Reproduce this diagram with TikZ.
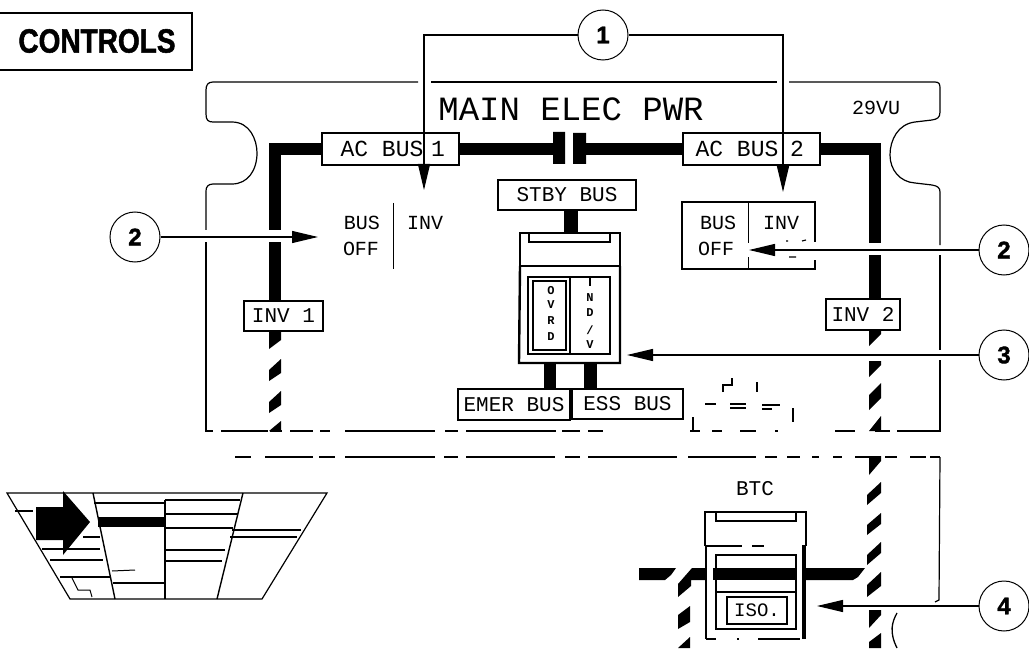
\documentclass[tikz,border=0pt]{standalone}
\usepackage{graphicx}
\usepackage{fontspec}
\setmainfont{Liberation Sans}
\setmonofont{Liberation Mono}
\setsansfont{Liberation Sans}
\newfontfamily\heavyfont[FakeBold=1.6]{Liberation Sans Bold}
\usetikzlibrary{arrows.meta}
\newcommand{\fsz}[1]{\fontsize{#1}{#1}\selectfont}
\tikzset{
  ink/.style={line width=1pt,black},
  panelline/.style={line width=1.2pt,black},
  busline/.style={line width=12pt,black},
  lblbox/.style={draw,line width=1.2pt,inner sep=0pt,font=\ttfamily\fsz{21}},
  lbltext/.style={inner sep=0pt,font=\ttfamily\fsz{20}},
  tinytext/.style={inner sep=0pt,font=\ttfamily\bfseries\fsz{12}},
  callout/.style={draw,circle,line width=1pt,minimum size=50pt,inner sep=0pt,font=\heavyfont\fsz{24},fill=white},
  leader/.style={line width=1.2pt,-{Triangle[length=26pt,width=12pt]}},
}
\begin{document}
\begin{tikzpicture}[x=1pt,y=-1pt]
\useasboundingbox (0,0) rectangle (1029,650);
\fill[white] (0,0) rectangle (1029,650);
% CONTROLS
\draw[line width=1.3pt] (0,13) -- (192,13) -- (192,70) -- (0,70);
\node[inner sep=0pt,font=\heavyfont\fsz{28}] (controls) at (97,41) {\scalebox{1}[1.2]{CONTROLS}};
% panel
\draw[panelline] (418,82) -- (213,82) .. controls (208,82) and (206,85) .. (206,90) -- (206,114) .. controls (206,120) and (208,122) .. (213,122) -- (232,122) .. controls (250,122) and (257,140) .. (257,153) .. controls (257,170) and (248,184) .. (232,184) -- (213,184) .. controls (208,184) and (206,187) .. (206,191) -- (206,230);
\draw[panelline] (206,242) -- (206,431) -- (213,431);
\draw[panelline] (431,82) -- (777,82);
\draw[panelline] (789,82) -- (935,82) .. controls (939,82) and (940,84) .. (940,88) -- (940,112) .. controls (940,118) and (937,119) .. (932,120) -- (915,122) .. controls (898,124) and (890,140) .. (890,155) .. controls (890,170) and (900,182) .. (915,183) -- (932,185) .. controls (938,186) and (940,188) .. (940,192) -- (940,245);
\draw[panelline] (940,255) -- (940,350);
\draw[panelline] (940,360) -- (940,431) -- (925,431);
\foreach \a/\b in {221/268,270/282,290/313,320/330,345/435,445/458,466/556,562/580,588/603,690/700,712/722,740/756,775/778,835/855,875/890,897/925}
  \draw[panelline] (\a,431) -- (\b,431);
\foreach \a/\b in {235/251,265/313,319/335,345/435,444/458,466/555,565/580,588/677,688/756,765/777,787/800,812/819,833/842,855/869,885/897,910/926,930/940}
  \draw[panelline] (\a,457) -- (\b,457);
\draw[panelline] (940,457) -- (939,600) -- (935,602);
\node[inner sep=0pt,font=\ttfamily\fsz{34}] (title) at (571,109) {MAIN ELEC PWR};
\node[lbltext] (vu) at (876,108) {29VU};
% bus labels
\node[lblbox,minimum width=137pt,minimum height=32pt] (ac1) at (390.5,149) {};
\node[inner sep=0pt,font=\ttfamily\fsz{23}] (ac1a) at (382,149) {AC BUS};
\node[inner sep=0pt,font=\ttfamily\fsz{23}] (ac1n) at (438,149) {1};
\node[lblbox,minimum width=137pt,minimum height=32pt] (ac2) at (751.5,149) {};
\node[inner sep=0pt,font=\ttfamily\fsz{23}] (ac2a) at (737,149) {AC BUS};
\node[inner sep=0pt,font=\ttfamily\fsz{23}] (ac2n) at (797,149) {2};
\node[lblbox,minimum width=138pt,minimum height=30pt] (stby) at (567,195) {STBY BUS};
\node[lblbox,minimum width=79pt,minimum height=30pt] (inv1) at (283.5,316) {INV 1};
\node[lblbox,minimum width=74pt,minimum height=31pt] (inv2) at (863,314.5) {INV 2};
\node[lblbox,minimum width=112pt,minimum height=31pt] (emer) at (514,404.5) {EMER BUS};
\node[lblbox,minimum width=111pt,minimum height=30pt] (ess) at (627.5,404) {ESS BUS};
% buses
\draw[busline] (ac1.west) -- (275,149) -- (275,230);
\draw[busline] (275,242) -- (inv1.north -| 275,0);
\fill (553,132) rectangle (565,164) (573,133) rectangle (586,164);
\coordinate (capL) at (553,149);
\coordinate (capR) at (586,149);
\draw[busline] (ac1.east) -- (capL);
\draw[busline] (capR) -- (ac2.west);
\draw[busline] (ac2.east) -- (875,149) -- (875,243);
\draw[busline] (875,255) -- (inv2.north -| 875,0);
% hatches left
\fill (269,332) -- (281,332) -- (281,340) -- (269,349) -- cycle;
\fill (269,370) -- (281,359) -- (281,373) -- (269,381) -- cycle;
\fill (269,402) -- (281,391) -- (281,405) -- (269,413) -- cycle;
\fill (269,431) -- (281,421) -- (281,431) -- cycle;
% hatches right
\fill (869,330) -- (881,330) -- (881,334) -- (869,346) -- cycle;
\fill (869,361) -- (881,361) -- (881,365) -- (869,377) -- cycle;
\fill (869,395) -- (881,383) -- (881,398) -- (869,410) -- cycle;
\fill (869,431) -- (881,416) -- (881,431) -- cycle;
\fill (869,456) -- (881,456) -- (881,461) -- (869,475) -- cycle;
\fill (867,495) -- (881,482) -- (881,493) -- (867,505) -- cycle;
\fill (867,525) -- (881,513) -- (881,524) -- (867,535) -- cycle;
\fill (867,555) -- (881,542) -- (881,553) -- (867,565) -- cycle;
\fill (867,585) -- (881,572) -- (881,586) -- (867,597) -- cycle;
\fill (869,610) -- (881,610) -- (881,615) -- (869,628) -- cycle;
\fill (869,648) -- (881,648) -- (881,633) -- (869,642) -- cycle;
% left label group
\node[lbltext] (busL) at (362,223) {BUS};
\node[lbltext] (offL) at (361,249) {OFF};
\node[lbltext] (invL) at (425,223) {INV};
\coordinate (dvT) at (393,203); \coordinate (dvB) at (393,269);
\draw[ink] (dvT) -- (dvB);
% right switch
\node[draw,line width=1.2pt,minimum width=133pt,minimum height=67pt,inner sep=0pt] (sw) at (748.5,235.5) {};
\draw[line width=1.5pt] (sw.north) -- (sw.south);
\fill[white] (745,243) rectangle (752,257);
\fill[white] (812,242) rectangle (818,260);
\node[lbltext] (busR) at (718,223) {BUS};
\node[lbltext] (offR) at (716,249) {OFF};
\node[lbltext] (invR) at (781,223) {INV};
\draw[line width=1.2pt] (786,241) -- (788,241) (802,241) -- (806,240) (789,257) -- (796,257);
% STBY module
\coordinate (m1T) at (571,233);
\draw[busline,line width=14pt] (stby.south -| 571,0) -- (m1T);
\draw[line width=1.2pt] (520,266) -- (520,233) -- (620,233) -- (620,266);
\draw[line width=1.2pt] (529,234) -- (529,242) -- (610,242) -- (610,234);
\draw[line width=2pt] (520,266) -- (620,266);
\draw[line width=2.4pt] (520,266) -- (519,363) -- (620,363) -- (620,266);
\draw[line width=1.2pt] (528,277) rectangle (610,354);
\draw[line width=1.4pt] (570,277) -- (570,354);
\draw[line width=1.5pt] (533,281) rectangle (566,350);
\draw[line width=1.2pt] (590,277) -- (590,286);
\node[tinytext] (o1) at (551,291) {O};
\node[tinytext] (o2) at (551,305) {V};
\node[tinytext] (o3) at (551,321) {R};
\node[tinytext] (o4) at (551,337) {D};
\node[tinytext] (u2) at (590,298) {N};
\node[tinytext] (u3) at (590,313) {D};
\node[tinytext] (u4) at (590,330) {/};
\node[tinytext] (u5) at (590,345) {V};
\coordinate (m1L) at (549.5,363); \coordinate (m1R) at (590,363);
\draw[busline] (m1L) -- (emer.north -| m1L);
\draw[line width=13pt] (m1R) -- (ess.north -| m1R);
% ground fragments
\draw[line width=1.4pt] (723,392) -- (723,385) -- (732,385) -- (732,378);
\draw[line width=1.2pt] (757,382) -- (757,392);
\draw[line width=1.8pt] (705,404) -- (716,404) (730,408) -- (746,408) (762,405) -- (780,405);
\draw[line width=1.2pt] (730,404) -- (746,404) (762,409) -- (772,409) (693,417) -- (693,430) (793,408) -- (793,422);
% BTC
\node[lbltext,font=\ttfamily\fsz{21}] (btc) at (755,489) {BTC};
\draw[line width=1.2pt] (705,546) -- (705,512) -- (806,512) -- (806,546);
\draw[line width=1.2pt] (716,512) -- (716,521) -- (796,521) -- (796,512);
\draw[line width=1.2pt] (705,546) -- (742,546) (752,546) -- (764,546);
\draw[line width=2.6pt] (706,546) -- (706,639);
\draw[line width=1.2pt] (706,639) -- (716,639) (737,639) -- (739,639) (758,639) -- (800,639);
\draw[line width=4pt] (804,545) -- (804,639);
\draw[line width=1.2pt] (716,555) rectangle (796,629);
\draw[line width=1.2pt] (716,592) -- (796,592);
\fill (713,568) rectangle (796,580);
\node[draw,line width=1.2pt,inner sep=0pt,minimum width=60pt,minimum height=27pt,font=\ttfamily\fsz{19}] (iso) at (757,610.5) {ISO.};
% outer BTC bus
\fill (639,568) -- (676,568) -- (671,575) -- (665,580) -- (639,580) -- cycle;
\fill (705,568) -- (692,568) -- (678,584) -- (678,597) -- (691,586) -- (691,580) -- (705,580) -- cycle;
\fill (678,615) -- (690,606) -- (690,622) -- (678,629) -- cycle;
\fill (678,648) -- (690,648) -- (690,637) -- cycle;
\fill (806,568) -- (865,568) -- (858,577) -- (853,580) -- (806,580) -- cycle;
\draw[line width=1.3pt] (897,613) .. controls (892,622) and (889,632) .. (897,648);
% callouts
\node[callout] (c1) at (603,35) {1};
\node[callout] (c2a) at (135,237) {2};
\node[callout] (c2b) at (1004,250) {2};
\node[callout] (c3) at (1004,355) {3};
\node[callout] (c4) at (1004,606) {4};
\coordinate (t1a) at (424,190);
\coordinate (t1b) at (783,192);
\coordinate (t2a) at (318,237);
\coordinate (t2b) at (749,250);
\coordinate (t3) at (627,355);
\coordinate (t4) at (817,606);
\draw[leader] (c1.west) -| (t1a);
\draw[leader] (c1.east) -| (t1b);
\draw[leader] (c2a.east) -- (t2a);
\draw[leader] (c2b.west) -- (t2b);
\draw[leader] (c3.west) -- (t3);
\draw[leader] (c4.west) -- (t4);
% cockpit trapezoid
\draw[line width=1.2pt] (7,493) -- (327,493) -- (262,599) -- (70,599) -- cycle;
\draw[line width=1.4pt] (93,493) -- (115,599);
\draw[line width=1.4pt] (165,500) -- (165,599);
\draw[line width=1.4pt] (243,493) -- (217,599);
\fill (98,517) rectangle (165,527);
\draw[line width=1.2pt] (94,503) -- (165,503);
\foreach \y/\a/\b in {500/165/240,514/165/238,528/165/233,550/165/225}
  \draw[line width=1.2pt] (\a,\y) -- (\b,\y);
\draw[line width=2pt] (165,561) -- (222,561);
\draw[line width=1.2pt] (232,530) -- (301,530) (230,537) -- (297,537);
\draw[line width=1.2pt] (15,511) -- (33,511) (83,537) -- (100,537) (42,549) -- (100,549) (50,560) -- (103,560) (60,577) -- (110,577) (113,583) -- (165,583);
\draw[line width=1pt] (112,571) -- (135,570) (72,578) -- (78,590) -- (90,590) -- (92,597);
\fill (36,507) -- (63,507) -- (63,491) -- (90,522) -- (63,555) -- (63,540) -- (36,540) -- cycle;
\end{tikzpicture}
\end{document}
